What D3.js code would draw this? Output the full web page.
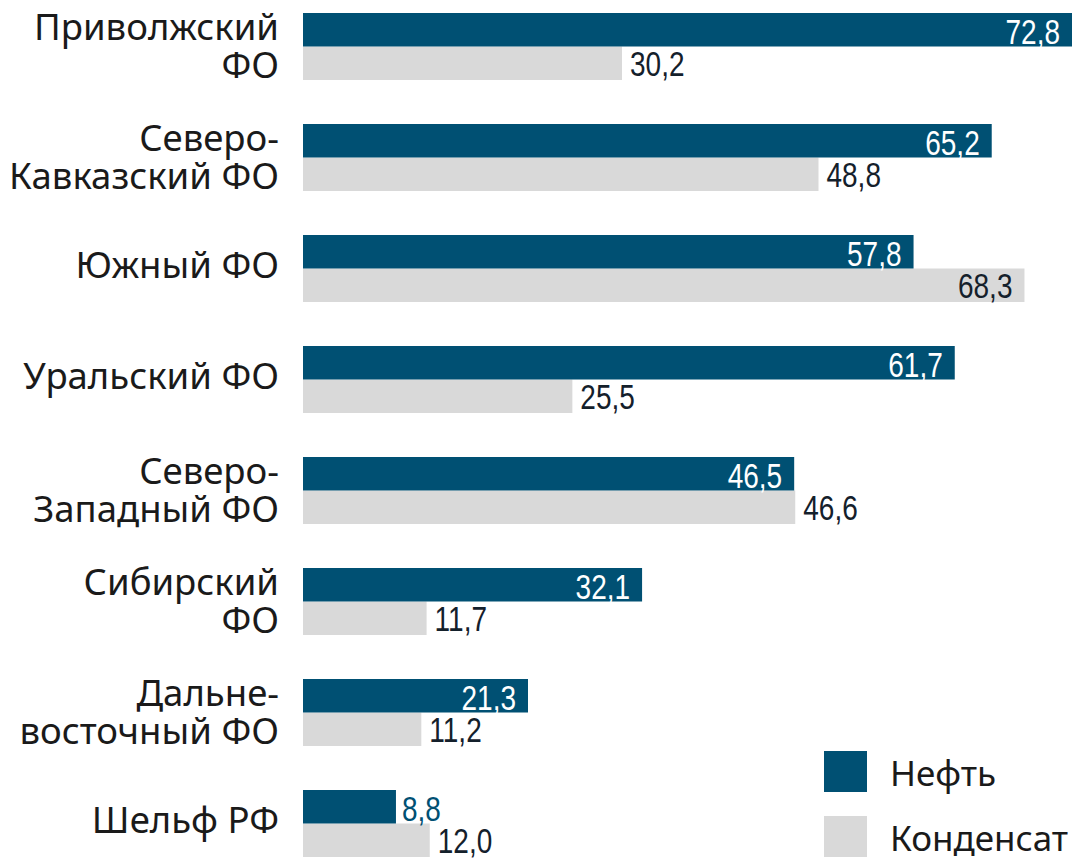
<!DOCTYPE html>
<html>
<head>
<meta charset="utf-8">
<script src="https://cdn.jsdelivr.net/npm/d3@7"></script>
<style>
  html, body { margin: 0; padding: 0; background: #fff; }
  svg { display: block; }
</style>
</head>
<body>
<svg id="chart" width="1074" height="860"></svg>
<script>
// ---- data ----
const categories = ["Приволжский ФО", "Северо-Кавказский ФО", "Южный ФО", "Уральский ФО",
                    "Северо-Западный ФО", "Сибирский ФО", "Дальневосточный ФО", "Шельф РФ"];
const categoryLines = [["Приволжский", "ФО"], ["Северо-", "Кавказский ФО"], ["Южный ФО"], ["Уральский ФО"],
                       ["Северо-", "Западный ФО"], ["Сибирский", "ФО"], ["Дальне-", "восточный ФО"], ["Шельф РФ"]];
const oil = [72.8, 65.2, 57.8, 61.7, 46.5, 32.1, 21.3, 8.8];
const condensate = [30.2, 48.8, 68.3, 25.5, 46.6, 11.7, 11.2, 12.0];
const seriesNames = ["Нефть", "Конденсат"];

// ---- style ----
const colors = ["#005073", "#d9d9d9"];
const labelFont = "'Noto Sans', 'Open Sans', sans-serif";
const numFont = "'Liberation Sans', Arial, sans-serif";
const condense = 0.8;
const W = 1074;

const svg = d3.select("#chart");
const x = d3.scaleLinear().domain([0, 72.8]).range([303, 1072]);
const y0 = d3.scaleBand().domain(categories).range([13, 13 + 111 * 8]).paddingInner(0).paddingOuter(0);
const barH = 33.5;
const fmt = v => d3.format(".1f")(v).replace(".", ",");

function squeeze(sel) {
  sel.each(function() {
    const w = this.getComputedTextLength();
    d3.select(this).attr("textLength", w * condense).attr("lengthAdjust", "spacingAndGlyphs");
  });
}

const groups = svg.selectAll("g.grp").data(categories).enter().append("g")
  .attr("class", "grp")
  .attr("transform", d => `translate(0,${y0(d)})`);

// condensate bars (under)
groups.append("rect")
  .attr("x", x(0)).attr("y", barH)
  .attr("width", (d, i) => x(condensate[i]) - x(0))
  .attr("height", barH)
  .attr("fill", colors[1]);

// oil bars
groups.append("rect")
  .attr("x", x(0)).attr("y", 0)
  .attr("width", (d, i) => x(oil[i]) - x(0))
  .attr("height", barH)
  .attr("fill", colors[0]);

// oil labels
groups.append("text")
  .attr("font-family", numFont)
  .attr("font-size", 35)
  .attr("y", barH - 3)
  .each(function(d, i) {
    const t = d3.select(this).text(fmt(oil[i]));
    const inside = oil[i] > 15;
    if (inside) {
      t.attr("x", x(oil[i]) - 12).attr("text-anchor", "end").attr("fill", "#fff");
    } else {
      t.attr("x", x(oil[i]) + 6).attr("text-anchor", "start").attr("fill", colors[0]);
    }
  })
  .call(squeeze);

// condensate labels
groups.append("text")
  .attr("font-family", numFont)
  .attr("font-size", 35)
  .attr("y", 2 * barH - 4)
  .attr("fill", "#14202b")
  .text((d, i) => fmt(condensate[i]))
  .call(squeeze)
  .each(function(d, i) {
    const w = this.getComputedTextLength() * condense;
    const t = d3.select(this);
    if (x(condensate[i]) + 8 + w > W) {
      t.attr("x", x(condensate[i]) - 12).attr("text-anchor", "end");
    } else {
      t.attr("x", x(condensate[i]) + 8).attr("text-anchor", "start");
    }
  });

// category labels
groups.each(function(d, i) {
  const g = d3.select(this);
  const lines = categoryLines[i];
  const c = barH;
  const t = g.append("text")
    .attr("font-family", labelFont)
    .attr("font-size", 36.5)
    .attr("fill", "#1a1a1a")
    .attr("text-anchor", "end");
  if (lines.length === 2) {
    t.append("tspan").attr("x", 279).attr("y", c - 6.5).text(lines[0]);
    t.append("tspan").attr("x", 279).attr("y", c + 31.5).text(lines[1]);
  } else {
    t.append("tspan").attr("x", 279).attr("y", c + 9).text(lines[0]);
  }
});

// legend
const legend = svg.append("g").attr("transform", "translate(824,751)");
seriesNames.forEach((s, i) => {
  const lg = legend.append("g").attr("transform", `translate(0,${i * 65})`);
  lg.append("rect").attr("width", 43).attr("height", 41).attr("fill", colors[i]);
  lg.append("text").attr("x", 66).attr("y", 35)
    .attr("font-family", labelFont).attr("font-size", 35).attr("fill", "#1a1a1a")
    .text(s);
});
</script>
</body>
</html>
